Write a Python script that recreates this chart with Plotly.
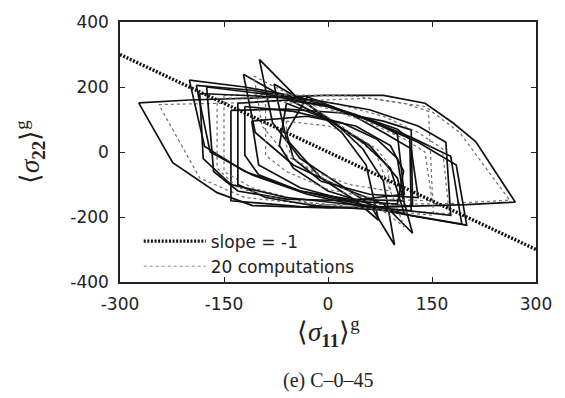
import plotly.graph_objects as go

# slope = -1 reference line (end points)
slope_x = [-300, 300]
slope_y = [300, -300]

# 20 computations: closed stress loops (sigma11, sigma22)
c01_x = [-273, -200, -110, -5, 80, 140, 180, 213, 270, 200, 100, 0, -109, -160, -224, -273]
c01_y = [151, 160, 166, 174, 174, 150, 90, 32, -154, -162, -168, -172, -165, -125, -33, 151]
c02_x = [-244, -150, -40, 60, 140, 190, 262, 180, 80, -20, -120, -185, -244]
c02_y = [146, 150, 158, 165, 140, 60, -148, -158, -162, -162, -140, -80, 146]
c03_x = [-200, -120, -40, 40, 120, 177, 193, 120, 50, -40, -120, -178, -200]
c03_y = [221, 200, 168, 115, 45, -13, -222, -195, -162, -120, -60, 17, 221]
c04_x = [-190, -110, -30, 50, 130, 185, 200, 130, 50, -30, -110, -170, -190]
c04_y = [205, 190, 160, 105, 30, -40, -225, -200, -168, -130, -70, 0, 205]
c05_x = [-140, -60, 20, 80, 120, 122, 40, -40, -140, -140]
c05_y = [128, 132, 120, 95, 68, -165, -172, -168, -150, 128]
c06_x = [-99, -45, 10, 50, 80, 96, 60, 10, -40, -80, -99]
c06_y = [285, 168, 90, 10, -90, -286, -160, -90, -20, 90, 285]
c07_x = [-122, -60, 0, 60, 100, 122, 80, 20, -50, -105, -122]
c07_y = [239, 165, 100, 20, -80, -250, -160, -110, -40, 60, 239]
c08_x = [-78, -30, 20, 55, 73, 40, -10, -60, -78]
c08_y = [209, 150, 60, -40, -210, -150, -80, 40, 209]
c09_x = [-107, -40, 20, 70, 110, 60, 0, -60, -95, -107]
c09_y = [234, 160, 80, -10, -230, -150, -90, -10, 80, 234]
c10_x = [-150, -60, 40, 110, 145, 152, 70, -30, -110, -150, -150]
c10_y = [175, 176, 172, 150, 125, -195, -178, -155, -110, -60, 175]
c11_x = [-60, 0, 50, 90, 110, 60, 0, -50, -70, -60]
c11_y = [150, 100, 30, -50, -190, -160, -120, -50, 20, 150]
c12_x = [-30, 30, 80, 120, 130, 60, -10, -50, -60, -30]
c12_y = [170, 120, 60, 10, -140, -130, -90, -20, 60, 170]
c13_x = [-120, -50, 20, 70, 100, 110, 30, -40, -100, -120, -120]
c13_y = [140, 125, 90, 40, -20, -150, -145, -120, -70, -10, 140]
c14_x = [-90, -10, 60, 110, 140, 150, 70, 0, -60, -90, -90]
c14_y = [160, 140, 90, 40, 0, -150, -145, -115, -60, -10, 160]
c15_x = [-110, -30, 40, 90, 109, 100, 30, -40, -100, -110]
c15_y = [95, 110, 80, 20, -58, -160, -150, -110, -40, 95]
c16_x = [-60, 0, 40, 70, 85, 90, 30, -20, -50, -60, -60]
c16_y = [95, 80, 50, 10, -30, -120, -100, -60, -20, 20, 95]
c17_x = [-175, -90, 0, 70, 100, 110, 30, -60, -130, -165, -175]
c17_y = [200, 178, 140, 90, 55, -130, -150, -145, -120, -60, 200]
c18_x = [-130, -60, 0, 60, 100, 118, 120, 50, -20, -90, -130, -130]
c18_y = [150, 160, 140, 100, 70, 40, -180, -175, -165, -140, -100, 150]
c19_x = [-160, -70, 10, 80, 130, 165, 175, 100, 20, -60, -130, -160, -160]
c19_y = [165, 168, 150, 110, 60, 10, -190, -180, -165, -150, -110, -50, 165]
c20_x = [-185, -100, -20, 60, 130, 170, 177, 110, 30, -60, -140, -180, -185]
c20_y = [180, 172, 160, 130, 80, 30, -195, -180, -160, -140, -100, -20, 180]

# which computations are drawn as light dotted curves
gray_runs = {2, 9, 10, 14, 16, 19}

x_ticks = [-300, -150, 0, 150, 300]
y_ticks = [-400, -200, 0, 200, 400]

loops = [
    (c01_x, c01_y), (c02_x, c02_y), (c03_x, c03_y), (c04_x, c04_y), (c05_x, c05_y),
    (c06_x, c06_y), (c07_x, c07_y), (c08_x, c08_y), (c09_x, c09_y), (c10_x, c10_y),
    (c11_x, c11_y), (c12_x, c12_y), (c13_x, c13_y), (c14_x, c14_y), (c15_x, c15_y),
    (c16_x, c16_y), (c17_x, c17_y), (c18_x, c18_y), (c19_x, c19_y), (c20_x, c20_y),
]

fig = go.Figure()

for i, (lx, ly) in enumerate(loops, start=1):
    if i in gray_runs:
        line = dict(color="#6e6e6e", width=1.2, dash="dot")
    else:
        line = dict(color="#111111", width=1.7)
    fig.add_trace(go.Scatter(x=lx, y=ly, mode="lines", line=line,
                             showlegend=False, hoverinfo="skip"))

fig.add_trace(go.Scatter(x=slope_x, y=slope_y, mode="lines",
                         line=dict(color="#111111", width=3.4, dash="2px,1.6px"),
                         name="slope = -1", legendrank=1))
fig.add_trace(go.Scatter(x=[None], y=[None], mode="lines",
                         line=dict(color="#8a8a8a", width=1.1, dash="dot"),
                         name="20 computations", legendrank=2))

axis_common = dict(showline=True, linecolor="#222222", linewidth=1.5, mirror="ticks",
                   ticks="inside", ticklen=5, tickwidth=1, tickcolor="#222222",
                   showgrid=False, zeroline=False,
                   tickfont=dict(family="DejaVu Sans", size=17, color="#222222"))

fig.update_layout(
    width=565, height=398,
    margin=dict(l=120, r=29, t=18, b=116),
    plot_bgcolor="white", paper_bgcolor="white",
    xaxis=dict(range=[-300, 300], tickvals=x_ticks, ticktext=[str(v) for v in x_ticks],
               ticklabelstandoff=6, **axis_common),
    yaxis=dict(range=[-400, 400], tickvals=y_ticks, ticktext=[str(v) for v in y_ticks],
               ticklabelstandoff=6, **axis_common),
    legend=dict(x=0.045, y=-0.01, xanchor="left", yanchor="bottom", itemwidth=62,
                bgcolor="rgba(0,0,0,0)", tracegroupgap=0,
                font=dict(family="DejaVu Sans", size=17, color="#222222")),
    annotations=[
        dict(text="⟨<i>σ</i><sub><b>11</b></sub>⟩<sup>g</sup>", xref="paper", yref="paper",
             x=0.5, y=0, yshift=-50, xanchor="center", yanchor="middle", showarrow=False,
             font=dict(family="Liberation Serif", size=27, color="#222222")),
        dict(text="⟨<i>σ</i><sub><b>22</b></sub>⟩<sup>g</sup>", xref="paper", yref="paper",
             x=0, xshift=-90, y=0.5, xanchor="center", yanchor="middle", showarrow=False,
             textangle=-90,
             font=dict(family="Liberation Serif", size=27, color="#222222")),
        dict(text="(e) C–0–45", xref="paper", yref="paper",
             x=0.5, y=0, yshift=-98, xanchor="center", yanchor="middle", showarrow=False,
             font=dict(family="Liberation Serif", size=20, color="#222222")),
    ],
)

fig.write_html("out.html", config={"displayModeBar": False},
               post_script="document.body.style.margin='0';")
